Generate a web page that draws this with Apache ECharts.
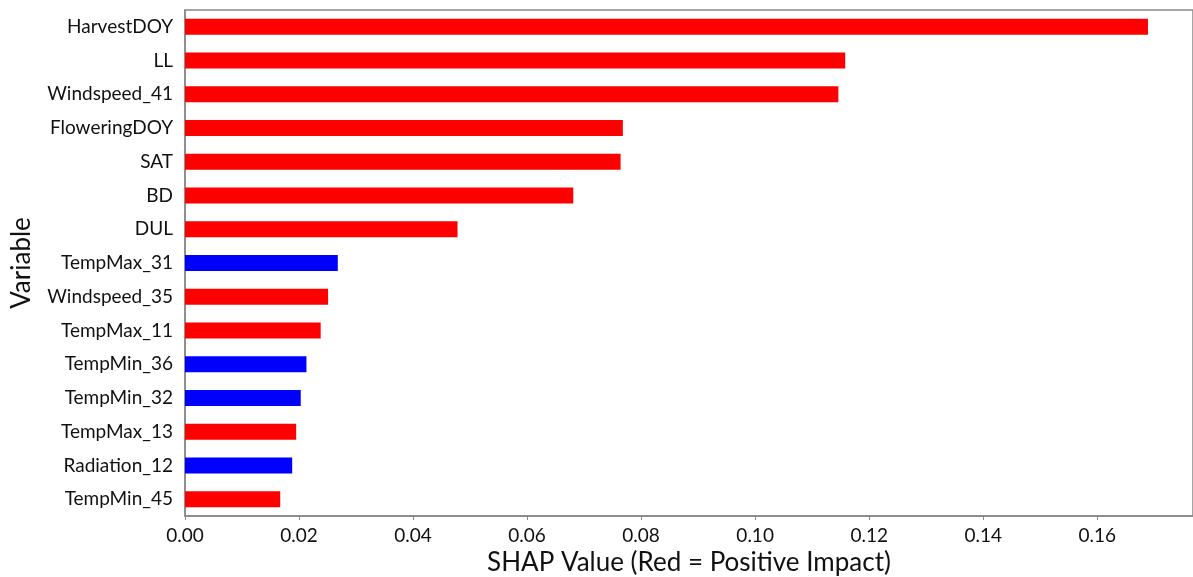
<!DOCTYPE html>
<html>
<head>
<meta charset="utf-8">
<script src="https://cdn.jsdelivr.net/npm/echarts@6/dist/echarts.min.js"></script>
<style>
html,body{margin:0;padding:0;background:#fff;}
#c{width:1193px;height:577px;}
</style>
</head>
<body>
<div id="c"></div>
<script>
const categories = ["HarvestDOY","LL","Windspeed_41","FloweringDOY","SAT","BD","DUL","TempMax_31","Windspeed_35","TempMax_11","TempMin_36","TempMin_32","TempMax_13","Radiation_12","TempMin_45"];
const shapValues = [0.1689,0.1158,0.1146,0.0768,0.0764,0.0681,0.0478,0.0268,0.0251,0.0238,0.0213,0.0203,0.0195,0.0188,0.0167];
const impact = ["positive","positive","positive","positive","positive","positive","positive","negative","positive","positive","negative","negative","positive","negative","positive"];
const xTicks = [0,0.02,0.04,0.06,0.08,0.10,0.12,0.14,0.16];

const impactColor = {positive:"#ff0000", negative:"#0000ff"};
const FONT = "Lato";
const chart = echarts.init(document.getElementById('c'), null, {renderer:'canvas'});
chart.setOption({
  animation:false,
  textStyle:{fontFamily:FONT},
  grid:{left:185, top:10, right:0, bottom:61, show:true, borderColor:"#888", borderWidth:1.5,
        containLabel:false, outerBoundsMode:'none'},
  xAxis:{
    type:'value', min:0, max:0.1768, interval:0.02,
    name:"SHAP Value (Red = Positive Impact)", nameLocation:'middle', nameGap:33,
    nameTextStyle:{fontFamily:FONT, fontSize:26, color:"#111"},
    axisLine:{show:true, lineStyle:{color:"#888", width:1.5}},
    axisTick:{show:true, length:4, lineStyle:{color:"#888"}},
    splitLine:{show:false},
    axisLabel:{fontFamily:FONT, fontSize:19, color:"#111", margin:10, showMaxLabel:false,
      formatter:v=>xTicks.some(t=>Math.abs(t-v)<1e-9)?v.toFixed(2):''}
  },
  yAxis:{
    type:'category', data:categories, inverse:true,
    name:"Variable", nameLocation:'middle', nameGap:150, nameRotate:90,
    nameTextStyle:{fontFamily:FONT, fontSize:26, color:"#111"},
    axisLine:{show:true, lineStyle:{color:"#888", width:1.5}},
    axisTick:{show:false},
    axisLabel:{fontFamily:FONT, fontSize:19, color:"#111", margin:12}
  },
  series:[{
    type:'bar', barWidth:16,
    data:shapValues.map((v,i)=>({value:v, itemStyle:{color:impactColor[impact[i]]}}))
  }]
});
</script>
</body>
</html>
